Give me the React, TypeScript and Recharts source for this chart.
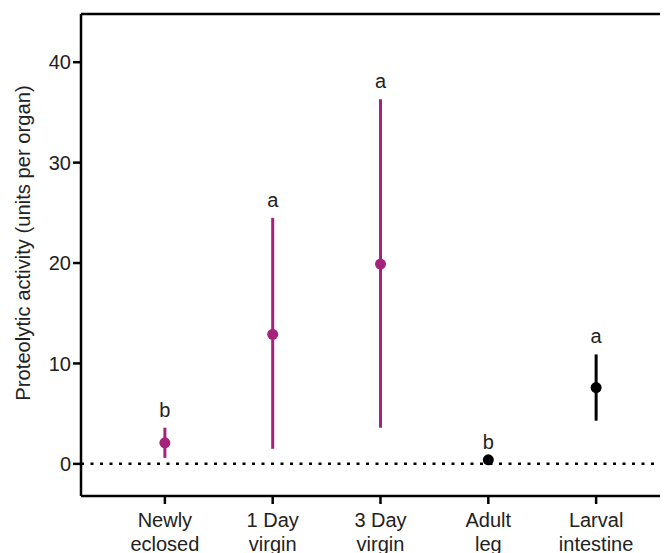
import React from "react";
import { ComposedChart, Scatter, ErrorBar, XAxis, YAxis, ReferenceLine, Label } from "recharts";

const categories = ["Newly eclosed", "1 Day virgin", "3 Day virgin", "Adult leg", "Larval intestine"];
const means = [2.1, 12.9, 19.9, 0.4, 7.6];
const lows = [0.6, 1.5, 3.6, 0.4, 4.3];
const highs = [3.6, 24.5, 36.3, 0.4, 10.9];
const letters = ["b", "a", "a", "b", "a"];
const femaleIdx = [0, 1, 2];
const controlIdx = [3, 4];
const yTicks = [0, 10, 20, 30, 40];

const row = (i: number) => ({
  x: i + 1,
  y: means[i],
  err: [means[i] - lows[i], highs[i] - means[i]],
});

const femaleData = femaleIdx.map(row);
const controlData = controlIdx.map(row);
const letterData = categories.map((_, i) => ({ x: i + 1, y: highs[i], letter: letters[i] }));

const MAGENTA = "#a6237c";
const FONT = "Liberation Sans, Arial, sans-serif";

// split the category name at its last space into two lines
const CatTick = (props: any) => {
  const { x, y, payload } = props;
  const name = categories[payload.value - 1];
  const cut = name.lastIndexOf(" ");
  const lines = [name.slice(0, cut), name.slice(cut + 1)];
  return (
    <text x={x} y={y} textAnchor="middle" fontSize={20} fill="#222" fontFamily={FONT}>
      {lines.map((l, i) => (
        <tspan key={i} x={x} dy={i === 0 ? 23 : 23.5}>
          {l}
        </tspan>
      ))}
    </text>
  );
};

const dot = (color: string) => (p: any) => <circle cx={p.cx} cy={p.cy} r={5.5} fill={color} />;

const LetterShape = (p: any) => (
  <text x={p.cx} y={p.cy - 11} textAnchor="middle" fontSize={20} fill="#222" fontFamily={FONT}>
    {p.payload.letter}
  </text>
);

const YTitle = () => (
  <text
    transform="translate(15, 235) rotate(-90)"
    textAnchor="middle"
    dominantBaseline="central"
    fontSize={20.2}
    fill="#222"
    fontFamily={FONT}
  >
    Proteolytic activity (units per organ)
  </text>
);

export default function App() {
  return (
    <div style={{ width: 660, height: 545, overflow: "hidden" }}>
      <ComposedChart width={690} height={600} margin={{ top: 6, right: 18, bottom: 82, left: 13 }}>
        <XAxis
          dataKey="x"
          type="number"
          domain={[0.222, 5.778]}
          ticks={[1, 2, 3, 4, 5]}
          allowDataOverflow
          tick={<CatTick />}
          tickSize={8}
          tickMargin={0}
          height={30}
          stroke="#000"
          strokeWidth={2.5}
          tickLine={{ stroke: "#000", strokeWidth: 2.5 }}
        />
        <YAxis
          dataKey="y"
          type="number"
          domain={[-3.2, 44.8]}
          ticks={yTicks}
          allowDataOverflow
          width={60}
          tickSize={8}
          tickMargin={2}
          stroke="#000"
          strokeWidth={2.5}
          tick={{ fontSize: 20, fill: "#222", fontFamily: FONT }}
        >
          <Label content={<YTitle />} />
        </YAxis>
        <ReferenceLine y={44.8} stroke="#000" strokeWidth={2.5} />
        <ReferenceLine y={0} stroke="#000" strokeWidth={2.5} strokeDasharray="3 6.5" />
        <Scatter data={femaleData} fill={MAGENTA} shape={dot(MAGENTA)} isAnimationActive={false}>
          <ErrorBar dataKey="err" direction="y" width={0} stroke={MAGENTA} strokeWidth={3} />
        </Scatter>
        <Scatter data={controlData} fill="#000" shape={dot("#000")} isAnimationActive={false}>
          <ErrorBar dataKey="err" direction="y" width={0} stroke="#000" strokeWidth={3} />
        </Scatter>
        <Scatter data={letterData} shape={<LetterShape />} isAnimationActive={false} />
      </ComposedChart>
    </div>
  );
}
